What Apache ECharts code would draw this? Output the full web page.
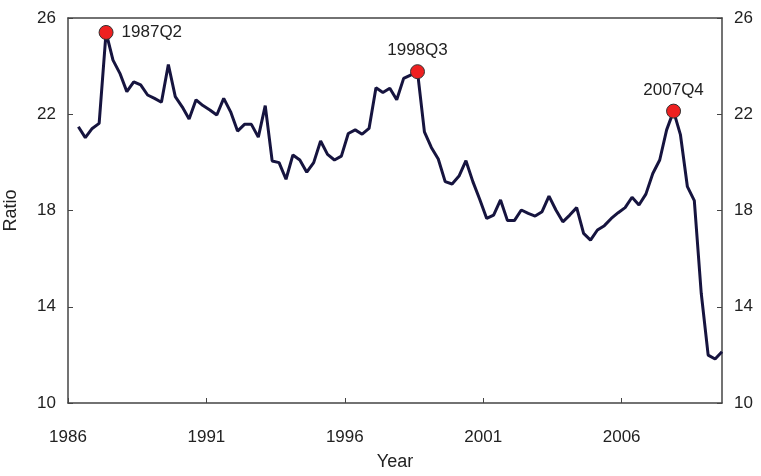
<!DOCTYPE html>
<html>
<head>
<meta charset="utf-8">
<script src="https://cdn.jsdelivr.net/npm/echarts@6/dist/echarts.min.js"></script>
<style>body{margin:0}#main{width:761px;height:476px}</style>
</head>
<body>
<div id="main"></div>
<script>
// 起点 1986Q2，季度数据
const startYear = 1986
const startQuarter = 2
const ratio = [
  21.48, 21.03, 21.41,
  21.62, 25.4, 24.25, 23.7,
  22.94, 23.35, 23.22, 22.8,
  22.66, 22.5, 24.07, 22.73,
  22.31, 21.8, 22.6, 22.36,
  22.18, 21.97, 22.66, 22.1,
  21.3, 21.58, 21.58, 21.05,
  22.36, 20.06, 19.99, 19.3,
  20.31, 20.1, 19.59, 19.99,
  20.89, 20.33, 20.1, 20.26,
  21.2, 21.35, 21.17, 21.41,
  23.1, 22.9, 23.08, 22.6,
  23.49, 23.63, 23.77, 21.27,
  20.62, 20.14, 19.2, 19.1,
  19.43, 20.07, 19.2, 18.46,
  17.67, 17.81, 18.44, 17.58,
  17.58, 18.02, 17.88, 17.77,
  17.95, 18.6, 18.02, 17.53,
  17.81, 18.12, 17.05, 16.77,
  17.19, 17.37, 17.67, 17.91,
  18.12, 18.55, 18.23, 18.68,
  19.54, 20.1, 21.35, 22.13,
  21.14, 18.99, 18.41, 14.56,
  11.99, 11.83, 12.13
]
const peaks = ['1987Q2', '1998Q3', '2007Q4']
const peakLabelPos = ['right', 'top', 'top']
const yTicks = [10, 14, 18, 22, 26]

const quarters = ratio.map((v, i) => {
  const k = startQuarter - 1 + i
  return startYear + Math.floor(k / 4) + 'Q' + (k % 4 + 1)
})
const toT = (q) => Number(q.slice(0, 4)) + (Number(q.slice(5)) - 0.5) / 4
const lineData = ratio.map((v, i) => [toT(quarters[i]), v])
const peakData = peaks.map((q, i) => ({
  value: [toT(q), ratio[quarters.indexOf(q)]],
  label: { show: true, formatter: q, position: peakLabelPos[i], distance: i === 0 ? 8 : 5 },
}))

const font = 'Liberation Sans, Arial, sans-serif'
const axisCommon = {
  axisLine: { show: true, lineStyle: { color: '#444', width: 1.5 } },
  axisTick: { show: true, inside: true, length: 5, lineStyle: { color: '#444' } },
  splitLine: { show: false },
}
const myEchart = echarts.init(document.querySelector('#main'))
myEchart.setOption({
  animation: false,
  textStyle: { fontFamily: font },
  grid: { left: 68, right: 39, top: 18, bottom: 73, outerBoundsMode: 'none', containLabel: false },
  xAxis: [
    {
      type: 'value', min: 1986, max: 2009.625, interval: 5, position: 'bottom',
      name: 'Year', nameLocation: 'middle', nameGap: 50,
      nameTextStyle: { fontSize: 18, color: '#222' },
      axisLabel: { fontSize: 17, color: '#222', margin: 26, showMaxLabel: false, formatter: (v) => String(v) },
      ...axisCommon,
    },
    {
      type: 'value', min: 1986, max: 2009.625, position: 'top',
      axisLabel: { show: false },
      axisTick: { show: false },
      axisLine: { show: true, lineStyle: { color: '#444', width: 1.5 } },
      splitLine: { show: false },
    },
  ],
  yAxis: [0, 1].map((i) => ({
    type: 'value', min: yTicks[0], max: yTicks[yTicks.length - 1], interval: 4,
    position: i ? 'right' : 'left',
    name: i ? '' : 'Ratio', nameLocation: 'middle', nameGap: 48,
    nameTextStyle: { fontSize: 18, color: '#222' },
    axisLabel: { fontSize: 17, color: '#222', margin: 12 },
    ...axisCommon,
  })),
  series: [
    {
      type: 'line',
      data: lineData,
      symbol: 'none',
      lineStyle: { color: '#16143f', width: 3 },
      z: 2,
    },
    {
      type: 'scatter',
      data: peakData,
      symbolSize: 14,
      itemStyle: { color: '#ee2020', borderColor: '#333', borderWidth: 1, opacity: 1 },
      label: { color: '#222', fontSize: 17 },
      z: 10,
    },
  ],
})
</script>
</body>
</html>
